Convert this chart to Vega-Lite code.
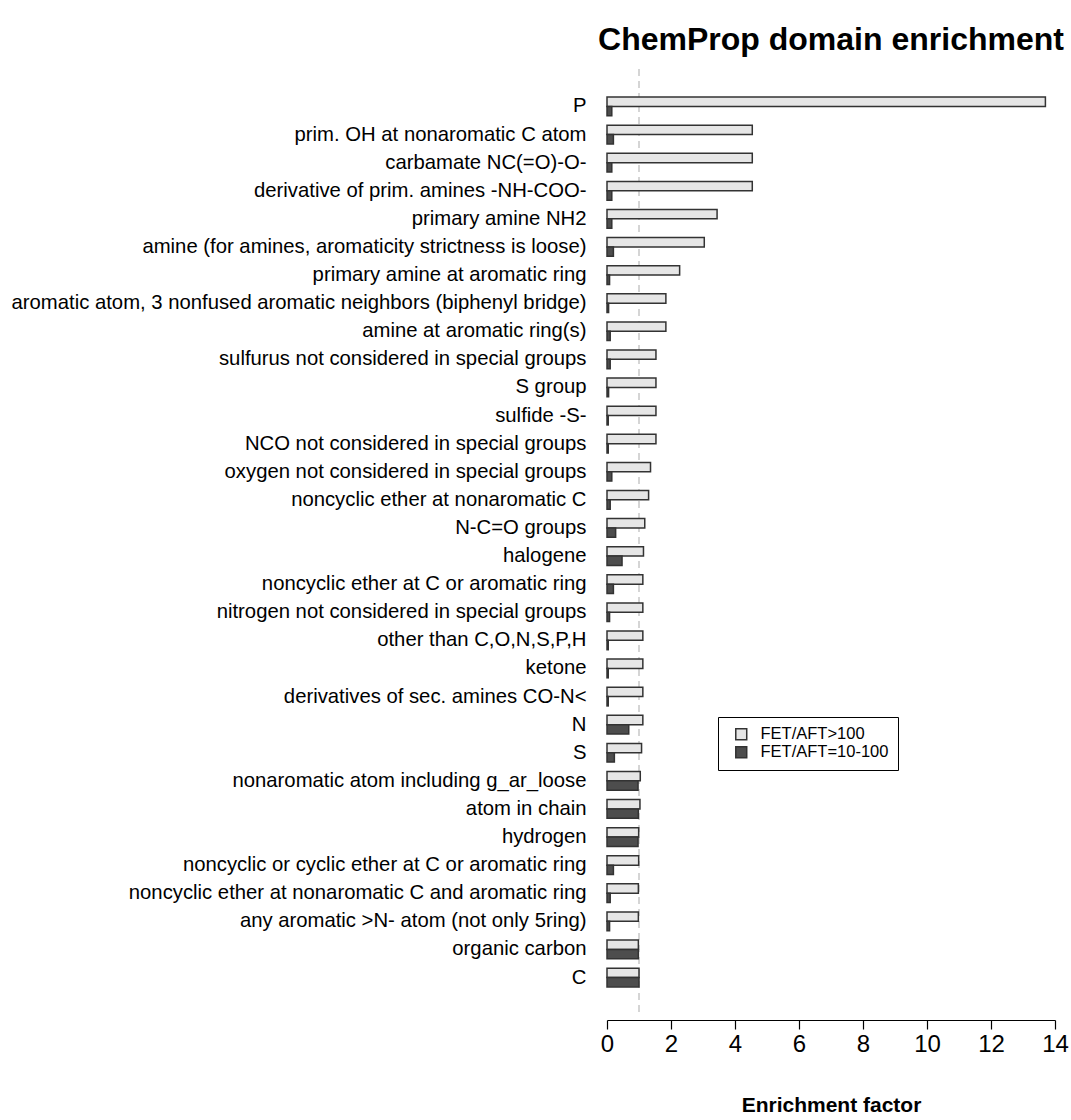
{
  "$schema": "https://vega.github.io/schema/vega-lite/v6.json",
  "autosize": {"type": "none"},
  "padding": {"left": 607, "top": 69, "right": 16, "bottom": 105},
  "width": 448,
  "height": 946,
  "background": "white",
  "title": {
    "text": "ChemProp domain enrichment",
    "anchor": "middle",
    "frame": "group",
    "font": "Liberation Sans",
    "fontSize": 32,
    "fontWeight": "bold",
    "color": "#000000",
    "offset": 11
  },
  "config": {
    "view": {"stroke": null},
    "font": "Liberation Sans"
  },
  "datasets": {
    "bars": [
      {"feature": "P", "group": "FET/AFT>100", "value": 13.7},
      {"feature": "P", "group": "FET/AFT=10-100", "value": 0.15},
      {"feature": "prim. OH at nonaromatic C atom", "group": "FET/AFT>100", "value": 4.54},
      {"feature": "prim. OH at nonaromatic C atom", "group": "FET/AFT=10-100", "value": 0.2},
      {"feature": "carbamate NC(=O)-O-", "group": "FET/AFT>100", "value": 4.54},
      {"feature": "carbamate NC(=O)-O-", "group": "FET/AFT=10-100", "value": 0.15},
      {"feature": "derivative of prim. amines -NH-COO-", "group": "FET/AFT>100", "value": 4.54},
      {"feature": "derivative of prim. amines -NH-COO-", "group": "FET/AFT=10-100", "value": 0.15},
      {"feature": "primary amine NH2", "group": "FET/AFT>100", "value": 3.44},
      {"feature": "primary amine NH2", "group": "FET/AFT=10-100", "value": 0.15},
      {"feature": "amine (for amines, aromaticity strictness is loose)", "group": "FET/AFT>100", "value": 3.04},
      {"feature": "amine (for amines, aromaticity strictness is loose)", "group": "FET/AFT=10-100", "value": 0.2},
      {"feature": "primary amine at aromatic ring", "group": "FET/AFT>100", "value": 2.27},
      {"feature": "primary amine at aromatic ring", "group": "FET/AFT=10-100", "value": 0.08},
      {"feature": "aromatic atom, 3 nonfused aromatic neighbors (biphenyl bridge)", "group": "FET/AFT>100", "value": 1.84},
      {"feature": "aromatic atom, 3 nonfused aromatic neighbors (biphenyl bridge)", "group": "FET/AFT=10-100", "value": 0.05},
      {"feature": "amine at aromatic ring(s)", "group": "FET/AFT>100", "value": 1.84},
      {"feature": "amine at aromatic ring(s)", "group": "FET/AFT=10-100", "value": 0.1},
      {"feature": "sulfurus not considered in special groups", "group": "FET/AFT>100", "value": 1.53},
      {"feature": "sulfurus not considered in special groups", "group": "FET/AFT=10-100", "value": 0.1},
      {"feature": "S group", "group": "FET/AFT>100", "value": 1.53},
      {"feature": "S group", "group": "FET/AFT=10-100", "value": 0.05},
      {"feature": "sulfide -S-", "group": "FET/AFT>100", "value": 1.53},
      {"feature": "sulfide -S-", "group": "FET/AFT=10-100", "value": 0.04},
      {"feature": "NCO  not considered in special groups", "group": "FET/AFT>100", "value": 1.53},
      {"feature": "NCO  not considered in special groups", "group": "FET/AFT=10-100", "value": 0.04},
      {"feature": "oxygen not considered in special groups", "group": "FET/AFT>100", "value": 1.36},
      {"feature": "oxygen not considered in special groups", "group": "FET/AFT=10-100", "value": 0.15},
      {"feature": "noncyclic ether at nonaromatic C", "group": "FET/AFT>100", "value": 1.3},
      {"feature": "noncyclic ether at nonaromatic C", "group": "FET/AFT=10-100", "value": 0.1},
      {"feature": "N-C=O groups", "group": "FET/AFT>100", "value": 1.18},
      {"feature": "N-C=O groups", "group": "FET/AFT=10-100", "value": 0.27},
      {"feature": "halogene", "group": "FET/AFT>100", "value": 1.14},
      {"feature": "halogene", "group": "FET/AFT=10-100", "value": 0.47},
      {"feature": "noncyclic ether at C or aromatic ring", "group": "FET/AFT>100", "value": 1.12},
      {"feature": "noncyclic ether at C or aromatic ring", "group": "FET/AFT=10-100", "value": 0.2},
      {"feature": "nitrogen not considered in special groups", "group": "FET/AFT>100", "value": 1.12},
      {"feature": "nitrogen not considered in special groups", "group": "FET/AFT=10-100", "value": 0.08},
      {"feature": "other than C,O,N,S,P,H", "group": "FET/AFT>100", "value": 1.12},
      {"feature": "other than C,O,N,S,P,H", "group": "FET/AFT=10-100", "value": 0.04},
      {"feature": "ketone", "group": "FET/AFT>100", "value": 1.12},
      {"feature": "ketone", "group": "FET/AFT=10-100", "value": 0.04},
      {"feature": "derivatives of sec. amines CO-N<", "group": "FET/AFT>100", "value": 1.12},
      {"feature": "derivatives of sec. amines CO-N<", "group": "FET/AFT=10-100", "value": 0.04},
      {"feature": "N", "group": "FET/AFT>100", "value": 1.12},
      {"feature": "N", "group": "FET/AFT=10-100", "value": 0.68},
      {"feature": "S", "group": "FET/AFT>100", "value": 1.08},
      {"feature": "S", "group": "FET/AFT=10-100", "value": 0.23},
      {"feature": "nonaromatic atom including g_ar_loose", "group": "FET/AFT>100", "value": 1.04},
      {"feature": "nonaromatic atom including g_ar_loose", "group": "FET/AFT=10-100", "value": 0.97},
      {"feature": "atom in chain", "group": "FET/AFT>100", "value": 1.03},
      {"feature": "atom in chain", "group": "FET/AFT=10-100", "value": 0.98},
      {"feature": "hydrogen", "group": "FET/AFT>100", "value": 0.99},
      {"feature": "hydrogen", "group": "FET/AFT=10-100", "value": 0.97},
      {"feature": "noncyclic or cyclic ether at C or aromatic ring", "group": "FET/AFT>100", "value": 0.99},
      {"feature": "noncyclic or cyclic ether at C or aromatic ring", "group": "FET/AFT=10-100", "value": 0.2},
      {"feature": "noncyclic ether at nonaromatic C and aromatic ring", "group": "FET/AFT>100", "value": 0.98},
      {"feature": "noncyclic ether at nonaromatic C and aromatic ring", "group": "FET/AFT=10-100", "value": 0.1},
      {"feature": "any aromatic >N- atom (not only 5ring)", "group": "FET/AFT>100", "value": 0.98},
      {"feature": "any aromatic >N- atom (not only 5ring)", "group": "FET/AFT=10-100", "value": 0.08},
      {"feature": "organic carbon", "group": "FET/AFT>100", "value": 0.98},
      {"feature": "organic carbon", "group": "FET/AFT=10-100", "value": 0.98},
      {"feature": "C", "group": "FET/AFT>100", "value": 1.0},
      {"feature": "C", "group": "FET/AFT=10-100", "value": 1.0}
    ],
    "ref": [{"value": 1}]
  },
  "layer": [
    {
      "data": {"name": "ref"},
      "mark": {"type": "rule", "color": "#c8c8c8", "strokeWidth": 1.5, "strokeDash": [7, 5]},
      "encoding": {
        "x": {"field": "value", "type": "quantitative", "scale": {"domain": [0, 14], "nice": false, "zero": true}}
      }
    },
    {
      "data": {"name": "bars"},
      "mark": {"type": "bar", "stroke": "#333333", "strokeWidth": 1.5},
      "encoding": {
        "y": {
          "field": "feature",
          "type": "nominal",
          "sort": null,
          "scale": {"paddingInner": 0.3333, "paddingOuter": 1},
          "axis": {
            "title": null,
            "ticks": false,
            "domain": false,
            "labelFontSize": 20.3,
            "labelColor": "#000000",
            "labelPadding": 21,
            "labelLimit": 700,
            "labelFont": "Liberation Sans"
          }
        },
        "yOffset": {
          "field": "group",
          "type": "nominal",
          "sort": ["FET/AFT>100", "FET/AFT=10-100"],
          "scale": {"paddingInner": 0, "paddingOuter": 0}
        },
        "x": {
          "field": "value",
          "type": "quantitative",
          "scale": {"domain": [0, 14], "nice": false, "zero": true},
          "axis": {
            "title": "Enrichment factor",
            "titleFontSize": 21,
            "titleFontWeight": "bold",
            "titleColor": "#000000",
            "titlePadding": 38,
            "titleFont": "Liberation Sans",
            "offset": 5,
            "values": [0, 2, 4, 6, 8, 10, 12, 14],
            "grid": false,
            "domainColor": "#000000",
            "domainWidth": 1.2,
            "tickColor": "#000000",
            "tickWidth": 1.2,
            "tickSize": 9,
            "labelFontSize": 24,
            "labelColor": "#000000",
            "labelPadding": 3,
            "labelFont": "Liberation Sans",
            "labelFlush": false
          }
        },
        "fill": {
          "field": "group",
          "type": "nominal",
          "sort": ["FET/AFT>100", "FET/AFT=10-100"],
          "scale": {"domain": ["FET/AFT>100", "FET/AFT=10-100"], "range": ["#e6e6e6", "#4d4d4d"]},
          "legend": {
            "title": null,
            "orient": "none",
            "legendX": 111,
            "legendY": 648,
            "strokeColor": "#000000",
            "padding": 9,
            "symbolOffset": 6,
            "symbolType": "square",
            "symbolSize": 120,
            "symbolStrokeColor": "#333333",
            "symbolStrokeWidth": 1.5,
            "labelFontSize": 16.5,
            "labelColor": "#000000",
            "labelFont": "Liberation Sans",
            "rowPadding": 0,
            "labelOffset": 11
          }
        }
      }
    }
  ]
}
